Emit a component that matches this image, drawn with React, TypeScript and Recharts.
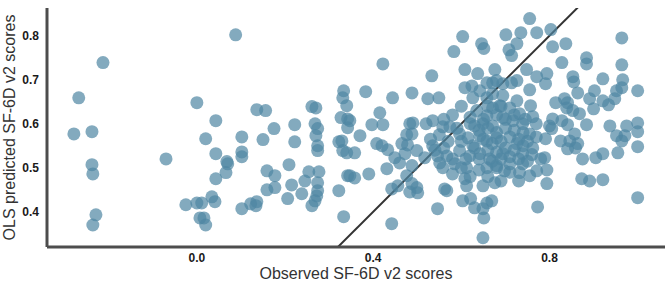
import { ReferenceLine, Scatter, ScatterChart, XAxis, YAxis } from "recharts";

// [observed, OLS predicted] pairs, grouped by where they sit on the plot
const leftTail: [number, number][] = [
  [-0.213, 0.739], [-0.268, 0.659], [-0.279, 0.577], [-0.238, 0.582], [-0.238, 0.507],
  [-0.236, 0.486], [-0.229, 0.393], [-0.236, 0.37], [-0.07, 0.52], [-0.025, 0.416],
  [0.0, 0.42], [0.007, 0.386], [0.0, 0.648], [0.088, 0.802], [0.043, 0.607],
  [0.136, 0.632], [0.156, 0.63], [0.175, 0.589], [0.02, 0.566], [0.102, 0.57],
  [0.15, 0.564], [0.043, 0.532], [0.068, 0.514], [0.07, 0.509], [0.066, 0.489],
  [0.102, 0.536], [0.102, 0.525], [0.043, 0.475], [0.159, 0.493], [0.177, 0.482],
  [0.177, 0.455], [0.159, 0.45], [0.011, 0.42], [0.034, 0.434], [0.041, 0.423],
  [0.102, 0.407], [0.122, 0.418], [0.136, 0.423], [0.134, 0.414], [0.016, 0.386],
  [0.02, 0.37],
];

const middle: [number, number][] = [
  [0.261, 0.639], [0.27, 0.636], [0.222, 0.598], [0.268, 0.6], [0.274, 0.589],
  [0.333, 0.675], [0.331, 0.659], [0.34, 0.641], [0.327, 0.614], [0.342, 0.611],
  [0.342, 0.591], [0.222, 0.559], [0.27, 0.573], [0.274, 0.55], [0.274, 0.539],
  [0.322, 0.559], [0.331, 0.539], [0.34, 0.534], [0.209, 0.507], [0.254, 0.491],
  [0.277, 0.491], [0.245, 0.47], [0.215, 0.461], [0.238, 0.441], [0.274, 0.466],
  [0.274, 0.448], [0.272, 0.436], [0.268, 0.425], [0.261, 0.414], [0.322, 0.448],
  [0.342, 0.482], [0.206, 0.43], [0.333, 0.389], [0.422, 0.736], [0.383, 0.673],
  [0.444, 0.659], [0.415, 0.625], [0.347, 0.607], [0.397, 0.598], [0.422, 0.598],
  [0.37, 0.573], [0.329, 0.561], [0.408, 0.555], [0.42, 0.55], [0.433, 0.541],
  [0.358, 0.534], [0.449, 0.523], [0.431, 0.498], [0.39, 0.486], [0.347, 0.482],
  [0.358, 0.477], [0.442, 0.452], [0.442, 0.373],
];

const upperMiddle: [number, number][] = [
  [0.603, 0.798], [0.583, 0.764], [0.646, 0.782], [0.651, 0.771], [0.533, 0.709],
  [0.608, 0.723], [0.676, 0.723], [0.637, 0.714], [0.488, 0.67], [0.524, 0.657],
  [0.549, 0.659], [0.608, 0.682], [0.624, 0.686], [0.658, 0.693], [0.671, 0.693],
  [0.642, 0.675], [0.658, 0.659], [0.626, 0.659], [0.671, 0.636], [0.635, 0.63],
  [0.658, 0.618], [0.483, 0.6], [0.49, 0.602], [0.535, 0.607], [0.558, 0.593],
  [0.574, 0.593], [0.63, 0.595], [0.649, 0.6], [0.671, 0.595], [0.476, 0.575],
  [0.488, 0.577], [0.465, 0.555], [0.478, 0.552], [0.472, 0.532], [0.499, 0.539],
  [0.535, 0.55], [0.46, 0.511], [0.488, 0.505], [0.476, 0.482], [0.517, 0.523],
  [0.546, 0.527], [0.567, 0.527], [0.551, 0.511], [0.558, 0.5], [0.585, 0.509],
  [0.58, 0.486], [0.612, 0.5], [0.619, 0.527], [0.456, 0.459], [0.488, 0.464],
  [0.499, 0.455], [0.483, 0.445], [0.501, 0.443], [0.562, 0.452], [0.567, 0.448],
  [0.608, 0.475], [0.612, 0.459], [0.649, 0.459], [0.603, 0.425], [0.621, 0.43],
  [0.658, 0.42], [0.669, 0.425], [0.63, 0.409], [0.649, 0.407], [0.651, 0.386],
  [0.546, 0.407], [0.649, 0.341], [0.596, 0.577], [0.615, 0.568], [0.642, 0.573],
  [0.658, 0.561], [0.68, 0.568], [0.626, 0.55], [0.596, 0.539], [0.642, 0.532],
  [0.664, 0.52], [0.68, 0.505], [0.658, 0.5],
];

const denseCore: [number, number][] = [
  [0.62, 0.6], [0.64, 0.585], [0.66, 0.59], [0.68, 0.58], [0.7, 0.59], [0.72, 0.585],
  [0.74, 0.58], [0.65, 0.565], [0.67, 0.555], [0.69, 0.56], [0.71, 0.57], [0.73, 0.565],
  [0.75, 0.56], [0.77, 0.57], [0.63, 0.545], [0.66, 0.54], [0.68, 0.535], [0.7, 0.545],
  [0.72, 0.54], [0.74, 0.55], [0.76, 0.53], [0.64, 0.52], [0.67, 0.515], [0.69, 0.52],
  [0.71, 0.525], [0.73, 0.52], [0.75, 0.515], [0.78, 0.52], [0.62, 0.615], [0.65, 0.61],
  [0.68, 0.62], [0.7, 0.61], [0.72, 0.62], [0.745, 0.61], [0.77, 0.6], [0.66, 0.64],
  [0.69, 0.64], [0.6, 0.56], [0.61, 0.52], [0.59, 0.59], [0.57, 0.56], [0.55, 0.575],
  [0.53, 0.565], [0.56, 0.61], [0.58, 0.62], [0.6, 0.64], [0.52, 0.6], [0.54, 0.54],
  [0.56, 0.545], [0.68, 0.5], [0.71, 0.49], [0.66, 0.48], [0.64, 0.495], [0.62, 0.48],
  [0.69, 0.47], [0.73, 0.47], [0.6, 0.5], [0.58, 0.52],
];

const rightSide: [number, number][] = [
  [0.755, 0.839], [0.701, 0.802], [0.735, 0.807], [0.771, 0.807], [0.803, 0.814],
  [0.726, 0.782], [0.708, 0.768], [0.714, 0.755], [0.807, 0.775], [0.837, 0.782],
  [0.964, 0.795], [0.828, 0.739], [0.884, 0.75], [0.884, 0.736], [0.964, 0.734],
  [0.748, 0.723], [0.771, 0.707], [0.794, 0.714], [0.791, 0.691], [0.853, 0.707],
  [0.855, 0.695], [0.921, 0.702], [0.966, 0.7], [0.964, 0.682], [1.0, 0.675],
  [0.952, 0.675], [0.948, 0.657], [0.902, 0.675], [0.891, 0.657], [0.921, 0.652],
  [0.934, 0.643], [0.9, 0.634], [0.864, 0.67], [0.834, 0.657], [0.841, 0.648],
  [0.839, 0.636], [0.853, 0.63], [0.868, 0.623], [0.814, 0.648], [0.807, 0.611],
  [0.828, 0.607], [0.841, 0.598], [0.8, 0.595], [0.884, 0.598], [0.937, 0.595],
  [0.975, 0.595], [1.0, 0.602], [0.755, 0.677], [0.757, 0.641], [0.762, 0.616],
  [0.68, 0.698], [0.694, 0.691], [0.714, 0.693], [0.726, 0.698], [0.671, 0.668],
  [0.694, 0.664], [0.726, 0.652], [0.687, 0.641], [0.71, 0.636], [0.732, 0.623],
  [0.694, 0.614], [0.717, 0.607], [0.739, 0.6], [1.0, 0.582], [0.952, 0.573],
  [0.971, 0.573], [0.964, 0.561], [1.0, 0.548], [0.825, 0.561], [0.846, 0.561],
  [0.864, 0.555], [0.841, 0.543], [0.859, 0.545], [0.857, 0.577], [0.805, 0.589],
  [0.791, 0.566], [0.789, 0.523], [0.875, 0.52], [0.905, 0.523], [0.921, 0.532],
  [0.955, 0.534], [0.771, 0.493], [0.794, 0.495], [0.755, 0.482], [0.732, 0.489],
  [0.698, 0.493], [0.676, 0.466], [0.794, 0.464], [0.873, 0.475], [0.891, 0.47],
  [0.921, 0.473], [1.0, 0.432], [0.773, 0.411], [0.755, 0.577], [0.726, 0.555],
  [0.694, 0.532], [0.739, 0.532], [0.762, 0.545], [0.71, 0.509], [0.739, 0.509],
];

const xTicks = [0, 0.4, 0.8];
const yTicks = [0.4, 0.5, 0.6, 0.7, 0.8];
const identityLine = [0.3, 0.9];

const points = [...leftTail, ...middle, ...upperMiddle, ...denseCore, ...rightSide].map(
  ([observed, predicted]) => ({ observed, predicted })
);

const FONT = "'Liberation Sans', Arial, Helvetica, sans-serif";
const AXIS = "#4d4d4d";
const tickStyle = { fill: "#1a1a1a", fontSize: 12, fontWeight: 700, fontFamily: FONT };

const Dot = (props: any) => (
  <circle cx={props.cx} cy={props.cy} r={6.5} fill="#4f86a2" fillOpacity={0.7} />
);

const XTitle = (props: any) => {
  const vb = props.viewBox;
  return (
    <text
      x={vb.x + vb.width / 2}
      y={vb.y + 32}
      textAnchor="middle"
      fill="#333"
      fontSize={16}
      fontFamily={FONT}
    >
      Observed SF-6D v2 scores
    </text>
  );
};

const YTitle = (props: any) => {
  const vb = props.viewBox;
  const cy = vb.y + vb.height / 2;
  return (
    <text
      transform={`translate(15, ${cy}) rotate(-90)`}
      textAnchor="middle"
      fill="#333"
      fontSize={16}
      fontFamily={FONT}
    >
      OLS predicted SF-6D v2 scores
    </text>
  );
};

export default function App() {
  return (
    <div style={{ position: "absolute", left: 0, top: 0, width: 669, height: 288, background: "#fff" }}>
      <ScatterChart width={669} height={288} margin={{ top: 8, right: 4, bottom: 0, left: 0 }}>
        <XAxis
          type="number"
          dataKey="observed"
          domain={[-0.34, 1.062]}
          allowDataOverflow
          ticks={xTicks}
          tickFormatter={(v: number) => v.toFixed(1)}
          tick={tickStyle}
          tickLine={false}
          tickMargin={0}
          axisLine={{ stroke: AXIS, strokeWidth: 3 }}
          height={41}
          label={{ content: XTitle }}
        />
        <YAxis
          type="number"
          dataKey="predicted"
          domain={[0.32, 0.863]}
          allowDataOverflow
          ticks={yTicks}
          tickFormatter={(v: number) => v.toFixed(1)}
          tick={tickStyle}
          tickLine={false}
          axisLine={{ stroke: AXIS, strokeWidth: 3 }}
          width={47}
          label={{ content: YTitle }}
        />
        <Scatter data={points} shape={Dot} isAnimationActive={false} />
        <ReferenceLine
          segment={[
            { x: identityLine[0], y: identityLine[0] },
            { x: identityLine[1], y: identityLine[1] },
          ]}
          stroke="#333"
          strokeWidth={2}
          ifOverflow="hidden"
        />
      </ScatterChart>
    </div>
  );
}
